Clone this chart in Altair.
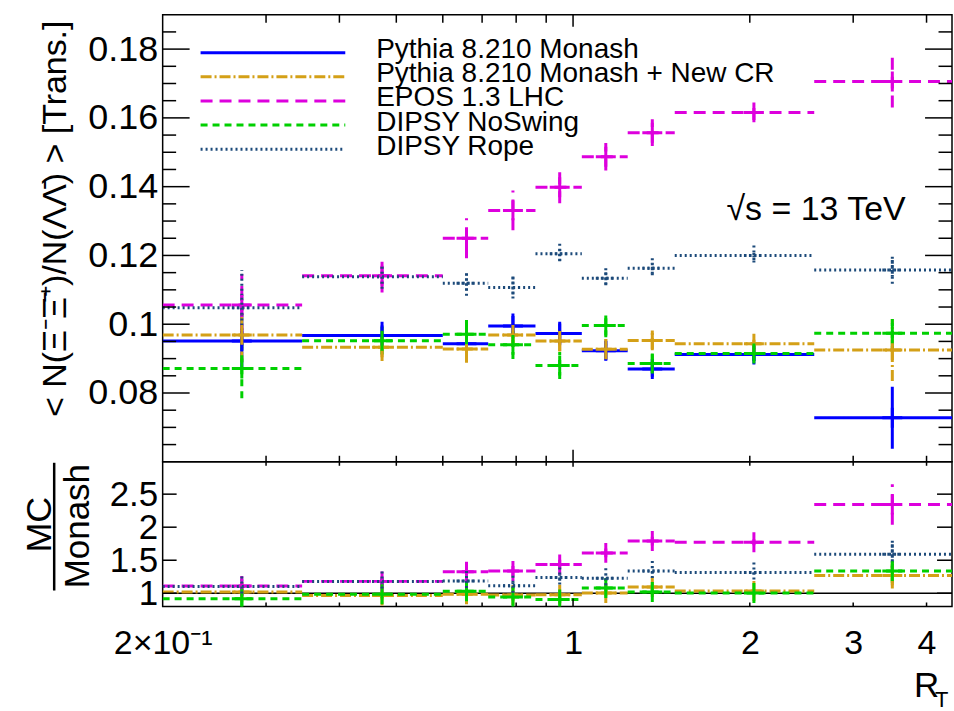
import altair as alt
import pandas as pd

F = "Liberation Sans"

# ---------------- data ----------------
edges = [0.2, 0.3456, 0.6, 0.717, 0.863, 1.035, 1.239, 1.49, 2.575, 4.42]

names = ["Pythia 8.210 Monash", "Pythia 8.210 Monash + New CR", "EPOS 1.3 LHC",
         "DIPSY NoSwing", "DIPSY Rope"]
colors = ["#0000ff", "#d4a017", "#dd00dd", "#00d000", "#1c4a7a"]
dashes = [[1, 0], [11, 3, 2, 3], [12, 7], [7, 5], [2, 3]]

monash = [0.0951, 0.0967, 0.0943, 0.0995, 0.0973, 0.0923, 0.0870, 0.0912, 0.0728]
monash_err = [0.008, 0.004, 0.004, 0.0036, 0.0034, 0.0028, 0.0023, 0.0019, 0.0090]
newcr = [0.0969, 0.0933, 0.0928, 0.0969, 0.0951, 0.0927, 0.0953, 0.0943, 0.0925]
newcr_err = [0.008, 0.004, 0.004, 0.0035, 0.003, 0.003, 0.0025, 0.002, 0.009]
epos = [0.1056, 0.1141, 0.1250, 0.1331, 0.1398, 0.1487, 0.1557, 0.1616, 0.1706]
epos_err = [0.009, 0.0049, 0.0058, 0.0058, 0.0046, 0.004, 0.0039, 0.0022, 0.0076]
noswing = [0.0871, 0.0952, 0.0971, 0.0940, 0.0880, 0.0996, 0.0886, 0.0915, 0.0974]
noswing_err = [0.0086, 0.004, 0.0049, 0.0041, 0.0039, 0.0034, 0.0027, 0.0022, 0.0049]
rope = [0.1048, 0.1138, 0.1119, 0.1107, 0.1205, 0.1134, 0.1163, 0.1200, 0.1158]
rope_err = [0.011, 0.0035, 0.0036, 0.0032, 0.0022, 0.0018, 0.0016, 0.0013, 0.004]

values = [monash, newcr, epos, noswing, rope]
errors = [monash_err, newcr_err, epos_err, noswing_err, rope_err]

y_major = [0.08, 0.10, 0.12, 0.14, 0.16, 0.18]
y_minor = [0.065, 0.07, 0.075, 0.085, 0.09, 0.095, 0.105, 0.11, 0.115, 0.125,
           0.13, 0.135, 0.145, 0.15, 0.155, 0.165, 0.17, 0.175, 0.185]
r_major = [1.0, 1.5, 2.0, 2.5]
x_major = [1.0]
x_minor = [0.3, 0.4, 0.5, 0.6, 0.7, 0.8, 0.9, 2.0, 3.0, 4.0]
x_labels = [0.2, 1.0, 2.0, 3.0, 4.0]

ytitle = "< N(\u039e\u207b\u039e\u0304\u207a)/N(\u039b\u039b\u0304) > [Trans.]"
energy = "\u221as = 13 TeV"

rows = []
for s, (name, vals, errs) in enumerate(zip(names, values, errors)):
    for i in range(len(vals)):
        lo, hi = edges[i], edges[i + 1]
        m, me = monash[i], monash_err[i]
        v, e = vals[i], errs[i]
        r = v / m
        re = r * ((e / v) ** 2 + (me / m) ** 2) ** 0.5
        rows.append(dict(series=name, k=s, lo=lo, hi=hi, c=(lo + hi) / 2,
                         v=v, vlo=v - e, vhi=v + e, r=r, rlo=r - re, rhi=r + re))
df = pd.DataFrame(rows)
df_ratio = df[df.series != names[0]]

# ---------------- layout ----------------
W, HT, HB = 791, 448, 145

XS = alt.Scale(type="log", domain=[0.2, 4.42], nice=False)
YT = alt.Scale(domain=[0.06, 0.19], nice=False, zero=False)
YB = alt.Scale(domain=[0.8, 2.99], nice=False, zero=False)

COLOR = alt.Color("series:N", scale=alt.Scale(domain=names, range=colors), legend=None)
DASH = alt.StrokeDash("series:N", scale=alt.Scale(domain=names, range=dashes), legend=None)

YAX_T = alt.Axis(values=y_major, format=".2~f", labelFontSize=36, labelPadding=5,
                 ticks=False, domain=False, grid=False, title=None, labelFlush=False,
                 labelOverlap=False, labelFont=F, labelColor="black")
YAX_B = alt.Axis(values=r_major, format="~g", labelFontSize=35, labelPadding=5,
                 ticks=False, domain=False, grid=False, title=None, labelFlush=False,
                 labelOverlap=False, labelFont=F, labelColor="black")
XAX_B = alt.Axis(values=x_labels,
                 labelExpr="datum.value < 0.5 ? '2\u00d710\u207b\u00b9' : format(datum.value, 'd')",
                 labelFontSize=34, labelPadding=20, ticks=False, domain=False, grid=False,
                 title=None, labelFlush=False, labelOverlap=False, labelFont=F,
                 labelColor="black")

PLUS = "M-1,0H1M0,-1V1"


def tick_df(vals):
    return pd.DataFrame({"t": vals})


def yticks(vals, scale, axis, x1, x2):
    return alt.Chart(tick_df(vals)).mark_rule(color="black", strokeWidth=1.5).encode(
        y=alt.Y("t:Q", scale=scale, axis=axis), x=alt.value(x1), x2=alt.value(x2))


def xticks(vals, axis, y1, y2):
    return alt.Chart(tick_df(vals)).mark_rule(color="black", strokeWidth=1.5).encode(
        x=alt.X("t:Q", scale=XS, axis=axis), y=alt.value(y1), y2=alt.value(y2))


def text_layer(s, x, y, size, angle=0, align="left"):
    mk = dict(align=align, baseline="alphabetic", fontSize=size, font=F, color="black")
    if angle:
        mk["angle"] = angle
    return alt.Chart(pd.DataFrame({"s": [s]})).mark_text(**mk).encode(
        x=alt.value(x), y=alt.value(y), text="s:N")


def series_layers(data, yf, ylo, yhi, yscale, yaxis, xaxis):
    hist = alt.Chart(data).mark_rule(strokeWidth=3, clip=True).encode(
        x=alt.X("lo:Q", scale=XS, axis=xaxis), x2="hi:Q",
        y=alt.Y(f"{yf}:Q", scale=yscale, axis=yaxis), color=COLOR, strokeDash=DASH)
    err = alt.Chart(data).mark_rule(strokeWidth=3, clip=True).encode(
        x=alt.X("c:Q", scale=XS, axis=xaxis),
        y=alt.Y(f"{ylo}:Q", scale=yscale, axis=yaxis), y2=f"{yhi}:Q",
        color=COLOR, strokeDash=DASH)
    mk_solid = alt.Chart(data).transform_filter(alt.datum.series != names[4]).mark_point(
        shape=PLUS, size=400, strokeWidth=3, opacity=1, filled=False, clip=True).encode(
        x=alt.X("c:Q", scale=XS, axis=xaxis),
        y=alt.Y(f"{yf}:Q", scale=yscale, axis=yaxis), color=COLOR)
    mk_rope = alt.Chart(data).transform_filter(alt.datum.series == names[4]).mark_point(
        shape=PLUS, size=400, strokeWidth=3, opacity=1, filled=False, clip=True,
        strokeDash=[2, 3]).encode(
        x=alt.X("c:Q", scale=XS, axis=xaxis),
        y=alt.Y(f"{yf}:Q", scale=yscale, axis=yaxis), color=COLOR)
    return [hist, err, mk_solid, mk_rope]


# ---------------- top panel ----------------
anchor = alt.Chart(pd.DataFrame({"a": [0]})).mark_rule(opacity=0).encode(
    x=alt.value(-162), x2=alt.value(-162), y=alt.value(-13), y2=alt.value(-13))

top_layers = [anchor]
top_layers += series_layers(df, "v", "vlo", "vhi", YT, YAX_T, None)
top_layers += [
    yticks(y_major, YT, YAX_T, 0, 27), yticks(y_minor, YT, YAX_T, 0, 13.5),
    yticks(y_major, YT, YAX_T, W - 27, W), yticks(y_minor, YT, YAX_T, W - 13.5, W),
    xticks(x_major, None, 0, 12), xticks(x_minor, None, 0, 8),
    xticks(x_major, None, HT - 12, HT), xticks(x_minor, None, HT - 6, HT),
]
# legend
for i, name in enumerate(names):
    ly = 38 + i * 24.2
    top_layers.append(
        alt.Chart(pd.DataFrame({"s": [name]})).mark_rule(
            strokeWidth=3, color=colors[i], strokeDash=dashes[i]).encode(
            x=alt.value(38), x2=alt.value(183), y=alt.value(ly)))
    top_layers.append(text_layer(name, 214, ly + 5.5, 28))
top_layers.append(text_layer(energy, 565, 205.3, 34))
top_layers.append(text_layer(ytitle, -97, 204.5, 34, angle=270, align="center"))

top = alt.layer(*top_layers).properties(width=W, height=HT)

# ---------------- ratio panel ----------------
ref = alt.Chart(pd.DataFrame({"one": [1.0]})).mark_rule(color="black", strokeWidth=1.5).encode(
    y=alt.Y("one:Q", scale=YB, axis=YAX_B), x=alt.value(0), x2=alt.value(W))

bot_layers = [ref]
bot_layers += series_layers(df_ratio, "r", "rlo", "rhi", YB, YAX_B, XAX_B)
bot_layers += [
    yticks(r_major, YB, YAX_B, 0, 14), yticks(r_major, YB, YAX_B, W - 15, W),
    xticks(x_major, XAX_B, 0, 5), xticks(x_minor, XAX_B, 0, 4),
    xticks(x_major, XAX_B, HB - 8, HB), xticks(x_minor, XAX_B, HB - 4, HB),
    text_layer("MC", -112, 63, 36, angle=270, align="center"),
    text_layer("Monash", -74, 64.5, 35, angle=270, align="center"),
    alt.Chart(pd.DataFrame({"a": [0]})).mark_rule(color="black", strokeWidth=2.5).encode(
        x=alt.value(-108.7), y=alt.value(1), y2=alt.value(129)),
    text_layer("R", 753, 236, 35),
    text_layer("T", 774, 246, 22),
]
bottom = alt.layer(*bot_layers).properties(width=W, height=HB)

chart = alt.vconcat(top, bottom, spacing=0, bounds="flush").properties(
    padding={"left": 0, "top": 0, "right": 0, "bottom": 0},
    autosize=alt.AutoSizeParams(type="pad"),
    background="white",
).configure_view(stroke="black", strokeWidth=1.5).configure_text(font=F)

chart.save("out.html", embed_options={"renderer": "svg", "actions": False})
